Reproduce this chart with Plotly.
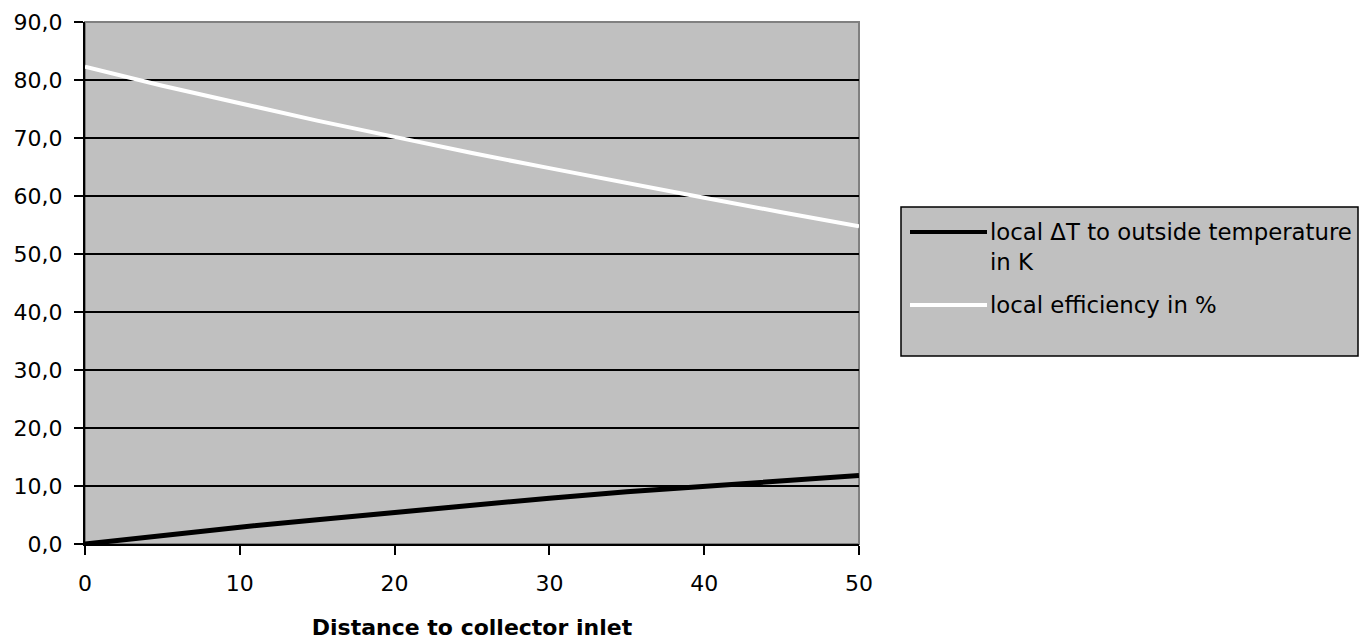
import plotly.graph_objects as go

distance = [0, 5, 10, 15, 20, 25, 30, 35, 40, 45, 50]
delta_t = [0.0, 1.5, 2.9, 4.2, 5.5, 6.7, 7.9, 9.0, 10.0, 11.0, 11.8]
efficiency = [82.3, 79.0, 76.0, 73.0, 70.2, 67.4, 64.8, 62.2, 59.7, 57.2, 54.8]

name_dt = "local \u0394T to outside temperature<br>in K"
name_eff = "local efficiency in %"

FONT = "DejaVu Sans, Liberation Sans, Arial, sans-serif"
FS = 22
LFS = 22.8
W, H = 1359, 643
L, R, T, B = 85, 500, 22, 99
PW, PH = W - L - R, H - T - B

def px(x):
    return (x - L) / PW

def py(y):
    return (H - B - y) / PH

fig = go.Figure()
fig.add_trace(go.Scatter(x=distance, y=delta_t, mode="lines", name=name_dt,
                         line=dict(color="black", width=5), showlegend=False))
fig.add_trace(go.Scatter(x=distance, y=efficiency, mode="lines", name=name_eff,
                         line=dict(color="white", width=4), showlegend=False))

shapes = [
    dict(type="rect", xref="paper", yref="paper", x0=0, x1=1, y0=0, y1=1,
         line=dict(color="#808080", width=2), layer="below"),
    dict(type="rect", xref="paper", yref="paper", x0=px(901), x1=px(1358), y0=py(207), y1=py(356),
         line=dict(color="black", width=1.5), fillcolor="#c0c0c0", layer="above"),
    dict(type="line", xref="paper", yref="paper", x0=px(910), x1=px(987), y0=py(232), y1=py(232),
         line=dict(color="black", width=4)),
    dict(type="line", xref="paper", yref="paper", x0=px(910), x1=px(987), y0=py(305), y1=py(305),
         line=dict(color="white", width=4)),
]
annotations = [
    dict(xref="paper", yref="paper", x=px(988), y=py(232), text="local \u0394T to outside temperature",
         showarrow=False, xanchor="left", yanchor="middle", font=dict(family=FONT, size=LFS, color="black")),
    dict(xref="paper", yref="paper", x=px(988), y=py(262), text="in K",
         showarrow=False, xanchor="left", yanchor="middle", font=dict(family=FONT, size=LFS, color="black")),
    dict(xref="paper", yref="paper", x=px(988), y=py(305), text=name_eff,
         showarrow=False, xanchor="left", yanchor="middle", font=dict(family=FONT, size=LFS, color="black")),
]

fig.update_layout(
    width=W, height=H,
    margin=dict(l=L, r=R, t=T, b=B, pad=0),
    paper_bgcolor="white", plot_bgcolor="#c0c0c0",
    separators=",.",
    showlegend=False,
    font=dict(family=FONT, size=FS, color="black"),
    shapes=shapes, annotations=annotations,
    xaxis=dict(range=[0, 50], tick0=0, dtick=10, showgrid=False, zeroline=False,
               automargin=False,
               showline=True, linecolor="black", linewidth=2,
               ticks="outside", ticklen=9, tickwidth=2, tickcolor="black",
               ticklabelstandoff=10,
               tickfont=dict(family=FONT, size=FS),
               title=dict(text="<b>Distance to collector inlet</b>", standoff=24,
                          font=dict(family=FONT, size=FS))),
    yaxis=dict(range=[0, 90], tick0=0, dtick=10, tickformat=".1f",
               automargin=False,
               showgrid=True, gridcolor="black", gridwidth=1.5, zeroline=False,
               showline=True, linecolor="black", linewidth=2,
               ticks="outside", ticklen=9, tickwidth=2, tickcolor="black",
               ticklabelstandoff=7,
               tickfont=dict(family=FONT, size=FS)),
)

fig.write_html("out.html")
